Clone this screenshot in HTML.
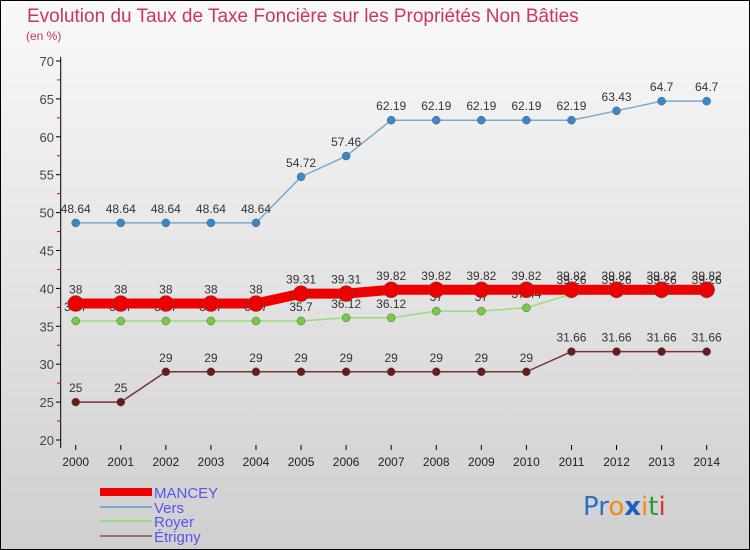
<!DOCTYPE html>
<html><head><meta charset="utf-8"><style>
body{margin:0;}
svg{display:block;font-family:"Liberation Sans",sans-serif;}
</style></head><body>
<svg width="750" height="550" viewBox="0 0 750 550">
<defs><linearGradient id="bg" x1="0" y1="0" x2="0" y2="1"><stop offset="0" stop-color="#f9f9f9"/><stop offset="1" stop-color="#cfcfcf"/></linearGradient></defs>
<rect x="0.5" y="0.5" width="749" height="549" fill="url(#bg)" stroke="#000"/>
<text x="27" y="22" font-size="19" fill="#cc3366">Evolution du Taux de Taxe Foncière sur les Propriétés Non Bâties</text>
<text x="26" y="40" font-size="12" fill="#cc3366">(en %)</text>
<g id="axes"></g>
<g id="series"></g>
<g id="legend"></g>
<text x="583" y="515" font-size="26" font-family="'DejaVu Sans',sans-serif"><tspan fill="#2a6fc9">Pr</tspan><tspan fill="#f08a1c">o</tspan><tspan fill="#1c5fbf" font-weight="bold">x</tspan><tspan fill="#f08a1c">i</tspan><tspan fill="#2a9a3a">t</tspan><tspan fill="#d33">i</tspan></text>
</svg>
<script>
const years=[2000,2001,2002,2003,2004,2005,2006,2007,2008,2009,2010,2011,2012,2013,2014];
const mancey=[38,38,38,38,38,39.31,39.31,39.82,39.82,39.82,39.82,39.82,39.82,39.82,39.82];
const vers=[48.64,48.64,48.64,48.64,48.64,54.72,57.46,62.19,62.19,62.19,62.19,62.19,63.43,64.7,64.7];
const royer=[35.7,35.7,35.7,35.7,35.7,35.7,36.12,36.12,37,37,37.44,39.26,39.26,39.26,39.26];
const etrigny=[25,25,29,29,29,29,29,29,29,29,29,31.66,31.66,31.66,31.66];
const yTicks=[20,25,30,35,40,45,50,55,60,65,70];
const NS="http://www.w3.org/2000/svg";
const X=i=>75.7+i*45.07;
const Y=v=>440-(v-20)*7.58;
function mk(tag,attrs,parent){const e=document.createElementNS(NS,tag);for(const k in attrs)e.setAttribute(k,attrs[k]);parent.appendChild(e);return e;}
const ax=document.getElementById('axes');
let line=mk('line',{x1:60.7,y1:Y(70)-4,x2:60.7,y2:Y(20)+8,stroke:'#000'},ax);


yTicks.forEach(t=>{
  const tk=mk('line',{x1:56,x2:61,y1:Y(t),y2:Y(t),stroke:'#000'},ax);
  
  
  if(t<70){const m=mk('line',{x1:57,x2:61,y1:Y(t+2.5),y2:Y(t+2.5),stroke:'#d00'},ax);
  
  }
  const tx=mk('text',{x:54,y:Y(t)+5,'text-anchor':'end','font-size':13,fill:'#444'},ax);
  tx.textContent=t;
  
  
});
years.forEach((yr,i)=>{
  const tk=mk('line',{x1:X(i),x2:X(i),y1:445,y2:450,stroke:'#000'},ax);
  
  
  const tx=mk('text',{x:X(i),y:466,'text-anchor':'middle','font-size':12,fill:'#222'},ax);
  tx.textContent=yr;
  
  
});
const sg=document.getElementById('series');
function series(name,vals,color,dot,width,r){
  const g=mk('g',{},sg);
  
  
  const p=mk('polyline',{points:vals.map((v,i)=>X(i)+','+Y(v)).join(' '),fill:'none',stroke:color,'stroke-width':width},g);
  
  
  vals.forEach((v,i)=>{
    const c=mk('circle',{cx:X(i),cy:Y(v),r:r,fill:dot,stroke:'#555','stroke-width':0.5},g);
    
    
    const t=mk('text',{x:X(i),y:Y(v)-10,'text-anchor':'middle','font-size':12,fill:'#333'},g);
    t.textContent=v;
    
    
  });
}
series('etrigny',etrigny,'#7a3333','#6b1a1a',1.5,4);
series('royer',royer,'#99dd77','#77cc44',1.5,4);
series('vers',vers,'#7aaad0','#3a88cc',1.5,4);
series('mancey',mancey,'#ee0000','#ee0000',10,8);
const lg=document.getElementById('legend');
[['MANCEY','#ee0000',8,497],['Vers','#7aaad0',2,512],['Royer','#99dd77',2,526],['Étrigny','#997070',2,541]].forEach(([n,c,w,y])=>{
  const g=mk('g',{},lg);
  
  
  mk('line',{x1:100,x2:152,y1:y-5,y2:y-5,stroke:c,'stroke-width':w},g);
  const t=mk('text',{x:154,y:y+1,'font-size':15,fill:'#5555ee'},g);
  t.textContent=n;
});
</script>
</body></html>
